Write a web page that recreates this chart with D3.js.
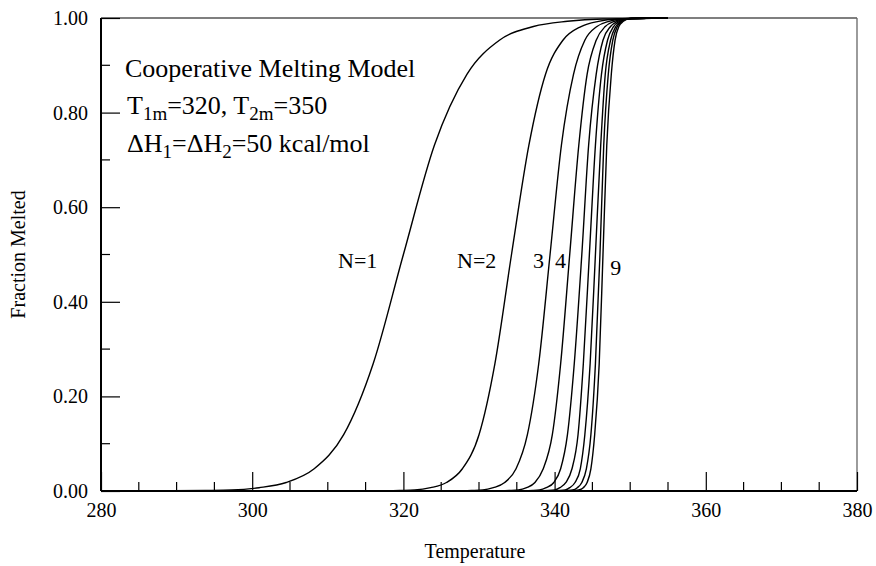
<!DOCTYPE html>
<html>
<head>
  <title>Cooperative Melting Model</title>
  <meta charset="UTF-8">
  <script src="https://cdn.jsdelivr.net/npm/d3@7"></script>
  <style>
    body { margin: 0; background: #fff; }
    svg text { font-family: "Liberation Serif", "Times New Roman", serif; fill: #000; }
  </style>
</head>
<body>
  <div id="chart"></div>

  <script>
    // [temperature, fraction melted], one list per N
    const meltN1 = [[285, 0.000], [293.8, 0.001], [297.3, 0.002], [300.9, 0.007], [304.5, 0.018], [308.2, 0.047], [312.1, 0.119], [316.0, 0.269], [320.0, 0.500], [324.1, 0.731], [328.4, 0.881], [332.7, 0.953], [337.2, 0.982], [341.7, 0.993], [346.4, 0.998], [351.3, 0.999], [355, 1.000]];
    const meltN2 = [[315, 0.000], [319.5, 0.001], [321.5, 0.002], [323.6, 0.007], [325.7, 0.018], [327.8, 0.047], [330.0, 0.119], [332.1, 0.269], [334.3, 0.500], [336.6, 0.731], [338.8, 0.881], [341.1, 0.953], [343.5, 0.982], [345.8, 0.993], [348.2, 0.998], [350.6, 0.999], [355, 1.000]];
    const meltN3 = [[326, 0.000], [329.0, 0.001], [330.5, 0.002], [331.9, 0.007], [333.4, 0.018], [334.9, 0.047], [336.4, 0.119], [337.9, 0.269], [339.4, 0.500], [340.9, 0.731], [342.5, 0.881], [344.0, 0.953], [345.6, 0.982], [347.2, 0.993], [348.8, 0.998], [350.4, 0.999], [355, 1.000]];
    const meltN4 = [[331, 0.000], [334.0, 0.001], [335.2, 0.002], [336.3, 0.007], [337.4, 0.018], [338.5, 0.047], [339.7, 0.119], [340.8, 0.269], [342.0, 0.500], [343.2, 0.731], [344.3, 0.881], [345.5, 0.953], [346.7, 0.982], [347.9, 0.993], [349.1, 0.998], [350.3, 0.999], [355, 1.000]];
    const meltN5 = [[334, 0.000], [337.1, 0.001], [338.0, 0.002], [338.9, 0.007], [339.9, 0.018], [340.8, 0.047], [341.7, 0.119], [342.6, 0.269], [343.6, 0.500], [344.5, 0.731], [345.5, 0.881], [346.4, 0.953], [347.4, 0.982], [348.3, 0.993], [349.3, 0.998], [350.3, 0.999], [355, 1.000]];
    const meltN6 = [[336, 0.000], [339.2, 0.001], [340.0, 0.002], [340.7, 0.007], [341.5, 0.018], [342.3, 0.047], [343.1, 0.119], [343.8, 0.269], [344.6, 0.500], [345.4, 0.731], [346.2, 0.881], [347.0, 0.953], [347.8, 0.982], [348.6, 0.993], [349.4, 0.998], [350.2, 0.999], [355, 1.000]];
    const meltN7 = [[338, 0.000], [340.7, 0.001], [341.4, 0.002], [342.0, 0.007], [342.7, 0.018], [343.4, 0.047], [344.0, 0.119], [344.7, 0.269], [345.4, 0.500], [346.1, 0.731], [346.7, 0.881], [347.4, 0.953], [348.1, 0.982], [348.8, 0.993], [349.5, 0.998], [350.2, 0.999], [355, 1.000]];
    const meltN8 = [[339, 0.000], [341.8, 0.001], [342.4, 0.002], [343.0, 0.007], [343.6, 0.018], [344.2, 0.047], [344.8, 0.119], [345.4, 0.269], [346.0, 0.500], [346.5, 0.731], [347.1, 0.881], [347.7, 0.953], [348.3, 0.982], [348.9, 0.993], [349.6, 0.998], [350.2, 0.999], [355, 1.000]];
    const meltN9 = [[340, 0.000], [342.7, 0.001], [343.2, 0.002], [343.8, 0.007], [344.3, 0.018], [344.8, 0.047], [345.3, 0.119], [345.9, 0.269], [346.4, 0.500], [346.9, 0.731], [347.5, 0.881], [348.0, 0.953], [348.5, 0.982], [349.1, 0.993], [349.6, 0.998], [350.1, 0.999], [355, 1.000]];

    const curves = [meltN1, meltN2, meltN3, meltN4, meltN5, meltN6, meltN7, meltN8, meltN9];

    const xTicks = [280, 300, 320, 340, 360, 380];
    const xMinorTicks = [285, 290, 295, 305, 310, 315, 325, 330, 335, 345, 350, 355, 365, 370, 375];
    const yTicks = [0, 0.2, 0.4, 0.6, 0.8, 1.0];
    const yMinorTicks = [0.1, 0.3, 0.5, 0.7, 0.9];

    // curve labels: text, temperature and fraction where they sit
    const curveLabels = [
      {text: 'N=1', t: 311.35, f: 0.471},
      {text: 'N=2', t: 327.1, f: 0.471},
      {text: '3', t: 337.15, f: 0.471},
      {text: '4', t: 340.05, f: 0.471},
      {text: '9', t: 347.35, f: 0.457}
    ];

    const width = 876, height = 566;
    const margin = {top: 18, right: 19, bottom: 75, left: 101};

    const svg = d3.select('#chart').append('svg')
      .attr('width', width)
      .attr('height', height);

    const x = d3.scaleLinear().domain([280, 380]).range([margin.left, width - margin.right]);
    const y = d3.scaleLinear().domain([0, 1]).range([height - margin.bottom, margin.top]);

    // frame: top and right are the lighter box lines
    svg.append('line')
      .attr('x1', x(280)).attr('x2', x(380)).attr('y1', y(1)).attr('y2', y(1))
      .attr('stroke', '#555').attr('stroke-width', 1.5);
    svg.append('line')
      .attr('x1', x(380)).attr('x2', x(380)).attr('y1', y(1)).attr('y2', y(0))
      .attr('stroke', '#666').attr('stroke-width', 1.3);

    // curves
    const line = d3.line()
      .x(d => x(d[0]))
      .y(d => y(d[1]))
      .curve(d3.curveMonotoneX);

    svg.append('g')
      .selectAll('path')
      .data(curves)
      .enter()
      .append('path')
      .attr('d', line)
      .attr('fill', 'none')
      .attr('stroke', '#000')
      .attr('stroke-width', 1.4);

    // bottom axis, ticks pointing into the plot
    const xAxis = svg.append('g')
      .attr('transform', `translate(0,${y(0)})`)
      .call(d3.axisBottom(x).tickValues(xTicks).tickSize(-19).tickFormat(d3.format('d')).tickPadding(12));
    xAxis.append('g')
      .selectAll('line')
      .data(xMinorTicks)
      .enter()
      .append('line')
      .attr('x1', d => x(d)).attr('x2', d => x(d))
      .attr('y1', 0).attr('y2', -9)
      .attr('stroke', '#000').attr('stroke-width', 1.2);

    // left axis
    const yAxis = svg.append('g')
      .attr('transform', `translate(${x(280)},0)`)
      .call(d3.axisLeft(y).tickValues(yTicks).tickSize(-19).tickFormat(d3.format('.2f')).tickPadding(13));
    yAxis.append('g')
      .selectAll('line')
      .data(yMinorTicks)
      .enter()
      .append('line')
      .attr('x1', 0).attr('x2', 9)
      .attr('y1', d => y(d)).attr('y2', d => y(d))
      .attr('stroke', '#000').attr('stroke-width', 1.2);

    [xAxis, yAxis].forEach(axis =>
    {
      axis.select('.domain').attr('stroke', '#000').attr('stroke-width', 2);
      axis.selectAll('.tick line').attr('stroke', '#000').attr('stroke-width', 1.2);
      axis.selectAll('.tick text').attr('font-size', 20).attr('font-family', '"Liberation Serif", serif');
    });
    xAxis.select('.domain').attr('d', `M${x(280)},0H${x(380)}`);
    yAxis.select('.domain').attr('d', `M0,${y(1)}V${y(0)}`);

    // axis titles
    svg.append('text')
      .attr('x', (x(280) + x(380)) / 2 - 4)
      .attr('y', 558)
      .attr('text-anchor', 'middle')
      .attr('font-size', 20)
      .text('Temperature');

    svg.append('text')
      .attr('transform', `translate(25,${(y(0) + y(1)) / 2}) rotate(-90)`)
      .attr('text-anchor', 'middle')
      .attr('font-size', 20)
      .text('Fraction Melted');

    // model description
    const note = svg.append('g').attr('font-size', 26);
    note.append('text').attr('x', 125).attr('y', 77).text('Cooperative Melting Model');

    const t1 = note.append('text').attr('x', 127).attr('y', 114);
    t1.append('tspan').text('T');
    t1.append('tspan').attr('font-size', 19).attr('dy', 6).text('1m');
    t1.append('tspan').attr('dy', -6).text('=320, T');
    t1.append('tspan').attr('font-size', 19).attr('dy', 6).text('2m');
    t1.append('tspan').attr('dy', -6).text('=350');

    const h1 = note.append('text').attr('x', 127).attr('y', 152);
    h1.append('tspan').text('\u0394H');
    h1.append('tspan').attr('font-size', 19).attr('dy', 6).text('1');
    h1.append('tspan').attr('dy', -6).text('=\u0394H');
    h1.append('tspan').attr('font-size', 19).attr('dy', 6).text('2');
    h1.append('tspan').attr('dy', -6).text('=50 kcal/mol');

    // curve labels
    svg.append('g')
      .selectAll('text')
      .data(curveLabels)
      .enter()
      .append('text')
      .attr('x', d => x(d.t))
      .attr('y', d => y(d.f))
      .attr('font-size', 22)
      .text(d => d.text);
  </script>
</body>
</html>
